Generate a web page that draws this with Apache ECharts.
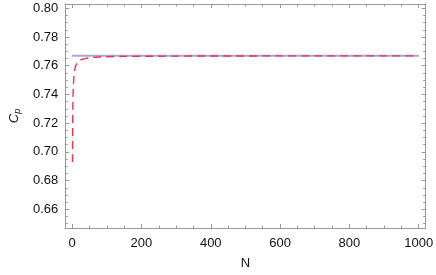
<!DOCTYPE html>
<html><head><meta charset="utf-8">
<script src="https://cdn.jsdelivr.net/npm/echarts@6/dist/echarts.min.js"></script>
<style>html,body{margin:0;padding:0;background:#fff}#c{width:436px;height:275px}</style>
</head><body><div id="c"></div>
<script>
// Data
var xLabels = [0, 200, 400, 600, 800, 1000];
var xMinor = [50,100,150,250,300,350,450,500,550,650,700,750,850,900,950];
var yLabels = [0.66, 0.68, 0.70, 0.72, 0.74, 0.76, 0.78, 0.80];
var yMinor = [0.65,0.655,0.665,0.67,0.675,0.685,0.69,0.695,0.705,0.71,0.715,0.725,0.73,0.735,0.745,0.75,0.755,0.765,0.77,0.775,0.785,0.79,0.795];
var blueN = [0, 1000];
var blueC = [0.767, 0.767];
var redN = [1, 2, 3, 4, 5, 6, 8, 10, 13, 16, 20, 25, 30, 40, 50, 60, 80, 100, 150, 200, 300, 400, 500, 600, 700, 800, 900, 1000];
var redC = [0.693, 0.730, 0.742, 0.748, 0.752, 0.7547, 0.7578, 0.7596, 0.7613, 0.7624, 0.7633, 0.7640, 0.7645, 0.7651, 0.7655, 0.7658, 0.7661, 0.7663, 0.7665, 0.7666, 0.7667, 0.7668, 0.7668, 0.7669, 0.7669, 0.7669, 0.7669, 0.7669];

var frame = '#999999';
var font = 'Liberation Sans, Arial';
var xMin = -20, xMax = 1020, yMin = 0.647, yMax = 0.803;
function xAx(pos, major, labels) {
  return {
    type: 'value', position: pos, min: xMin, max: xMax,
    axisLine: {show: true, onZero: false, lineStyle: {color: frame, width: 1}},
    axisTick: {show: true, inside: true, length: major ? 4 : 2.5, customValues: major ? xLabels : xMinor, lineStyle: {color: frame}},
    axisLabel: {show: labels, customValues: xLabels, color: '#111', fontFamily: font, fontSize: 13, margin: 9,
      formatter: function(v){ return String(Math.round(v)); }},
    splitLine: {show: false},
    name: labels ? 'N' : '', nameLocation: 'middle', nameGap: 29,
    nameTextStyle: {color: '#111', fontFamily: font, fontSize: 13}
  };
}
function yAx(pos, major, labels) {
  return {
    type: 'value', position: pos, min: yMin, max: yMax,
    axisLine: {show: true, onZero: false, lineStyle: {color: frame, width: 1}},
    axisTick: {show: true, inside: true, length: major ? 4 : 2.5, customValues: major ? yLabels : yMinor, lineStyle: {color: frame}},
    axisLabel: {show: labels, customValues: yLabels, color: '#111', fontFamily: font, fontSize: 13, margin: 7,
      formatter: function(v){ return v.toFixed(2); }},
    splitLine: {show: false},
    name: labels ? '{c|C}{p|p}' : '', nameLocation: 'middle', nameGap: 40, nameRotate: 90,
    nameTextStyle: {rich: {
      c: {fontFamily: font, fontStyle: 'italic', fontSize: 13, color: '#111'},
      p: {fontFamily: font, fontStyle: 'italic', fontSize: 9, color: '#111', verticalAlign: 'bottom', padding: [6,0,0,0]}
    }}
  };
}
var chart = echarts.init(document.getElementById('c'), null, {renderer: 'canvas'});
chart.setOption({
  animation: false,
  grid: {left: 57, right: 7, top: 4, bottom: 43, containLabel: false},
  xAxis: [xAx('bottom', true, true), xAx('bottom', false, false), xAx('top', true, false), xAx('top', false, false)],
  yAxis: [yAx('left', true, true), yAx('left', false, false), yAx('right', true, false), yAx('right', false, false)],
  series: [
    {type: 'line', data: blueN.map(function(n,i){return [n, blueC[i]];}), showSymbol: false,
      lineStyle: {color: '#a3a7dc', width: 2}, z: 2},
    {type: 'line', data: redN.map(function(n,i){return [n, redC[i]];}), showSymbol: false, smooth: 0.3,
      lineStyle: {color: '#ee3344', width: 1.4, type: [8, 5]}, z: 3}
  ]
});
</script></body></html>
